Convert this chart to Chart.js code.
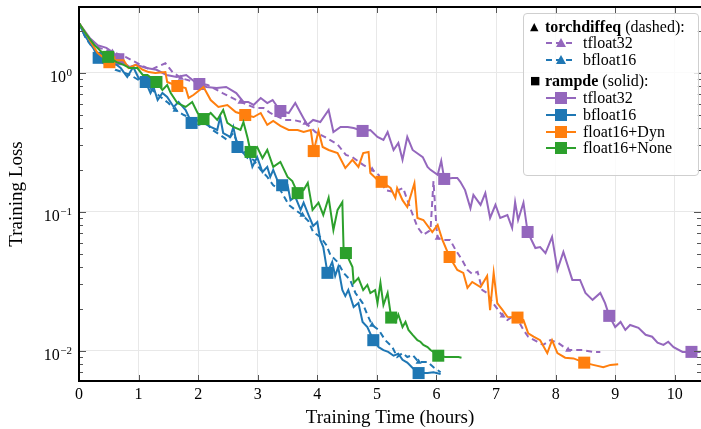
<!DOCTYPE html>
<html><head><meta charset="utf-8">
<script src="https://cdn.jsdelivr.net/npm/chart.js@4.4.1/dist/chart.umd.min.js"></script>
<style>
html,body{margin:0;padding:0;background:#fff;}
#wrap{position:relative;width:701px;height:429px;overflow:hidden;}
canvas{display:block;}
#legend{position:absolute;left:523px;top:13px;width:176px;height:163px;border:1px solid #cfcfcf;border-radius:4px;background:rgba(255,255,255,0.82);font-family:'Liberation Serif',serif;font-size:16px;color:#000;box-sizing:border-box;}
.row{position:absolute;left:0;height:18px;line-height:18px;white-space:nowrap;width:174px;}
.row span,.row svg{position:absolute;top:0;}
.gl{font-family:'DejaVu Sans',sans-serif;font-size:11px;}
</style></head>
<body>
<div id="wrap">
<canvas id="c" width="701" height="429"></canvas>
<div id="legend">
  <div class="row" style="top:4px"><span class="gl" style="left:6px">▲</span><span style="left:21px"><b>torchdiffeq</b> (dashed):</span></div>
  <div class="row" style="top:20px"><svg width="32" height="18" style="left:22px"><line x1="0" y1="9" x2="30" y2="9" stroke="#9467bd" stroke-width="2" stroke-dasharray="6,4"/><polygon points="15,4 20,13 10,13" fill="#9467bd"/></svg><span style="left:59px">tfloat32</span></div>
  <div class="row" style="top:37px"><svg width="32" height="18" style="left:22px"><line x1="0" y1="9" x2="30" y2="9" stroke="#1f77b4" stroke-width="2" stroke-dasharray="6,4"/><polygon points="15,4 20,13 10,13" fill="#1f77b4"/></svg><span style="left:59px">bfloat16</span></div>
  <div class="row" style="top:58px"><span class="gl" style="left:6px">■</span><span style="left:21px"><b>rampde</b> (solid):</span></div>
  <div class="row" style="top:75px"><svg width="32" height="18" style="left:22px"><line x1="0" y1="9" x2="30" y2="9" stroke="#9467bd" stroke-width="2"/><rect x="9" y="3" width="12" height="12" fill="#9467bd"/></svg><span style="left:59px">tfloat32</span></div>
  <div class="row" style="top:92px"><svg width="32" height="18" style="left:22px"><line x1="0" y1="9" x2="30" y2="9" stroke="#1f77b4" stroke-width="2"/><rect x="9" y="3" width="12" height="12" fill="#1f77b4"/></svg><span style="left:59px">bfloat16</span></div>
  <div class="row" style="top:109px"><svg width="32" height="18" style="left:22px"><line x1="0" y1="9" x2="30" y2="9" stroke="#ff7f0e" stroke-width="2"/><rect x="9" y="3" width="12" height="12" fill="#ff7f0e"/></svg><span style="left:59px">float16+Dyn</span></div>
  <div class="row" style="top:125px"><svg width="32" height="18" style="left:22px"><line x1="0" y1="9" x2="30" y2="9" stroke="#2ca02c" stroke-width="2"/><rect x="9" y="3" width="12" height="12" fill="#2ca02c"/></svg><span style="left:59px">float16+None</span></div>
</div>
</div>
<script>
// ---- data (hours, training loss) ----
const xTicks = [0,1,2,3,4,5,6,7,8,9,10];
const yMajor = [0.01, 0.1, 1];

// rampde tfloat32 (solid purple)
const rpTf32X = [0,0.18,0.31,0.46,0.56,0.66,0.80,0.85,0.96,1.13,1.30,1.47,1.64,1.80,1.97,2.02,2.14,2.31,2.47,2.64,2.76,2.84,2.93,3.05,3.16,3.25,3.38,3.52,3.63,3.72,3.83,3.93,4.05,4.19,4.27,4.39,4.51,4.61,4.76,4.89,5.01,5.11,5.18,5.28,5.36,5.43,5.51,5.60,5.77,5.85,5.90,6.02,6.08,6.13,6.27,6.35,6.40,6.48,6.57,6.62,6.74,6.82,6.90,6.99,7.07,7.19,7.27,7.32,7.37,7.46,7.53,7.66,7.74,7.83,7.94,8.03,8.13,8.28,8.41,8.50,8.62,8.75,8.83,8.90,9.00,9.09,9.17,9.25,9.39,9.51,9.62,9.71,9.81,9.89,9.98,10.13,10.28,10.43];
const rpTf32Y = [2.28,1.78,1.58,1.51,1.41,1.25,1.14,1.10,1.14,1.08,1.05,0.963,0.931,0.963,0.843,0.829,0.789,0.776,0.789,0.714,0.616,0.616,0.586,0.658,0.605,0.636,0.530,0.513,0.605,0.513,0.421,0.457,0.442,0.539,0.374,0.407,0.407,0.400,0.381,0.387,0.345,0.328,0.374,0.278,0.312,0.236,0.345,0.278,0.247,0.210,0.200,0.184,0.232,0.172,0.175,0.175,0.164,0.143,0.106,0.132,0.112,0.136,0.0901,0.112,0.0901,0.0947,0.0763,0.117,0.0871,0.116,0.0714,0.0548,0.0557,0.0504,0.0658,0.0381,0.0513,0.0323,0.0323,0.0260,0.0232,0.0260,0.0220,0.0178,0.0148,0.0161,0.0141,0.0153,0.0146,0.0130,0.0126,0.0114,0.0110,0.0116,0.0106,0.0098,0.0098,0.0098];
const rpTf32Marks = [5,15,26,38,53,70,83,96];

// torchdiffeq tfloat32 (dashed purple)
const tdTf32X = [0,0.18,0.34,0.56,0.78,0.98,1.20,1.45,1.57,1.71,1.99,2.16,2.41,2.71,2.96,3.10,3.21,3.46,3.60,3.80,3.97,4.14,4.34,4.48,4.59,4.77,4.92,5.03,5.14,5.28,5.36,5.44,5.56,5.68,5.78,5.90,5.95,6.00,6.02,6.12,6.23,6.32,6.43,6.52,6.60,6.69,6.77,6.85,6.95,7.11,7.19,7.32,7.46,7.54,7.69,7.79,7.91,8.04,8.21,8.33,8.46,8.62,8.75];
const tdTf32Y = [2.28,1.72,1.51,1.41,1.30,1.17,1.05,1.17,1.01,0.916,0.843,0.816,0.714,0.616,0.557,0.557,0.513,0.457,0.457,0.435,0.374,0.342,0.305,0.256,0.247,0.217,0.200,0.184,0.143,0.139,0.143,0.148,0.106,0.0776,0.0681,0.0738,0.166,0.0763,0.0647,0.0626,0.0626,0.0531,0.0450,0.0381,0.0357,0.0369,0.0273,0.0260,0.0220,0.0178,0.0166,0.0181,0.0141,0.0126,0.0116,0.0110,0.0119,0.0114,0.0101,0.0101,0.0101,0.0098,0.0098];
const tdTf32Marks = [3,9,13,19,26,38,49,58];

// rampde float16+Dyn (solid orange)
const rpDynX = [0,0.13,0.23,0.31,0.51,0.58,0.75,0.83,0.95,1.07,1.17,1.28,1.45,1.48,1.65,1.79,1.84,1.92,2.09,2.21,2.34,2.49,2.63,2.79,2.93,3.05,3.16,3.26,3.38,3.52,3.67,3.77,3.89,3.94,4.02,4.09,4.19,4.34,4.47,4.59,4.69,4.77,4.86,4.89,5.01,5.08,5.23,5.31,5.34,5.43,5.51,5.63,5.68,5.78,5.93,6.02,6.10,6.22,6.35,6.45,6.52,6.60,6.74,6.85,6.90,6.96,7.02,7.11,7.19,7.36,7.46,7.54,7.63,7.74,7.86,7.94,8.03,8.16,8.30,8.48,8.63,8.80,8.92,9.05];
const rpDynY = [2.28,1.87,1.58,1.39,1.19,1.23,1.23,1.08,1.14,1.05,1.01,0.995,1.01,0.857,0.802,0.776,0.658,0.691,0.789,0.636,0.567,0.586,0.521,0.496,0.480,0.513,0.421,0.449,0.414,0.387,0.387,0.374,0.387,0.273,0.381,0.292,0.278,0.264,0.206,0.236,0.210,0.264,0.269,0.190,0.169,0.164,0.148,0.126,0.148,0.121,0.108,0.160,0.0901,0.0871,0.0714,0.0802,0.0626,0.0472,0.0381,0.0363,0.0283,0.0312,0.0287,0.0345,0.0196,0.0363,0.0220,0.0196,0.0175,0.0173,0.0166,0.0133,0.0126,0.0119,0.0096,0.0119,0.0096,0.0089,0.0088,0.0082,0.0079,0.0076,0.0079,0.0080];
const rpDynMarks = [4,14,23,33,45,57,69,79];

// rampde float16+None (solid green)
const rpNoneX = [0,0.13,0.26,0.38,0.49,0.63,0.75,0.85,0.98,1.07,1.15,1.30,1.40,1.48,1.54,1.65,1.79,1.90,1.99,2.09,2.21,2.32,2.42,2.49,2.59,2.71,2.76,2.83,2.88,2.99,3.08,3.16,3.26,3.38,3.50,3.58,3.67,3.77,3.84,3.92,4.02,4.10,4.19,4.27,4.34,4.42,4.44,4.48,4.59,4.61,4.69,4.77,4.84,4.89,4.97,5.01,5.06,5.11,5.18,5.24,5.31,5.36,5.43,5.48,5.53,5.60,5.68,5.73,5.78,5.85,5.90,5.95,6.03,6.15,6.27,6.37,6.42];
const rpNoneY = [2.28,1.87,1.58,1.41,1.30,1.19,1.14,1.08,1.08,0.963,0.963,0.857,0.751,0.816,0.714,0.605,0.567,0.616,0.513,0.464,0.513,0.457,0.539,0.435,0.407,0.387,0.442,0.339,0.269,0.292,0.243,0.278,0.210,0.228,0.178,0.166,0.136,0.143,0.161,0.103,0.116,0.0947,0.126,0.0738,0.103,0.117,0.0557,0.0504,0.0400,0.0307,0.0333,0.0273,0.0297,0.0260,0.0273,0.0220,0.0307,0.0213,0.0260,0.0173,0.0161,0.0182,0.0148,0.0161,0.0141,0.0130,0.0119,0.0116,0.0110,0.0106,0.0101,0.0098,0.0092,0.0090,0.0090,0.0090,0.0089];
const rpNoneMarks = [4,11,19,28,36,47,59,72];

// rampde bfloat16 (solid blue)
const rpBf16X = [0,0.09,0.18,0.26,0.33,0.41,0.53,0.63,0.70,0.81,0.91,1.00,1.12,1.20,1.25,1.32,1.40,1.48,1.59,1.67,1.79,1.89,2.01,2.09,2.21,2.32,2.37,2.42,2.54,2.59,2.66,2.76,2.84,2.91,2.99,3.08,3.16,3.21,3.26,3.35,3.41,3.50,3.55,3.63,3.72,3.77,3.86,3.93,4.00,4.05,4.10,4.17,4.25,4.30,4.35,4.42,4.47,4.52,4.61,4.69,4.76,4.84,4.94,5.03,5.11,5.19,5.28,5.36,5.43,5.51,5.60,5.70,5.85,5.95,6.07];
const rpBf16Y = [2.28,1.87,1.64,1.46,1.28,1.17,1.17,1.14,1.08,0.931,1.10,0.916,0.857,0.714,0.789,0.636,0.714,0.669,0.567,0.616,0.539,0.435,0.457,0.435,0.407,0.387,0.480,0.368,0.345,0.407,0.292,0.264,0.278,0.210,0.247,0.193,0.210,0.178,0.200,0.160,0.155,0.156,0.121,0.128,0.103,0.116,0.0931,0.0789,0.0843,0.0626,0.0557,0.0363,0.0435,0.0345,0.0400,0.0273,0.0247,0.0273,0.0206,0.0220,0.0161,0.0148,0.0119,0.0106,0.0101,0.0098,0.0092,0.0095,0.0086,0.0082,0.0075,0.0069,0.0069,0.0070,0.0068];
const rpBf16Marks = [4,12,21,30,40,51,62,71];

// torchdiffeq bfloat16 (dashed blue)
const tdBf16X = [0,0.11,0.23,0.36,0.49,0.61,0.73,0.86,1.00,1.13,1.27,1.37,1.50,1.62,1.76,1.87,2.01,2.12,2.24,2.37,2.49,2.59,2.71,2.83,2.93,3.05,3.16,3.26,3.38,3.52,3.63,3.75,3.85,3.93,4.05,4.15,4.22,4.34,4.44,4.55,4.64,4.76,4.84,4.92,5.03,5.14,5.26,5.34,5.43,5.51,5.60,5.70,5.85,5.95,6.07];
const tdBf16Y = [2.28,1.78,1.51,1.28,1.14,1.05,1.01,0.963,0.886,0.816,0.726,0.669,0.605,0.539,0.496,0.472,0.421,0.442,0.387,0.356,0.328,0.368,0.278,0.243,0.236,0.200,0.178,0.155,0.143,0.112,0.103,0.0947,0.0857,0.0714,0.0658,0.0576,0.0488,0.0435,0.0363,0.0323,0.0260,0.0220,0.0181,0.0153,0.0141,0.0119,0.0106,0.0090,0.0096,0.0090,0.0093,0.0083,0.0083,0.0076,0.0070];
const tdBf16Marks = [4,13,22,31,43,51];

const PURPLE='#9467bd', BLUE='#1f77b4', ORANGE='#ff7f0e', GREEN='#2ca02c';

function pts(xs, ys){ return xs.map((x,i)=>({x:x, y:ys[i]})); }
function mk(label, xs, ys, color, dashed, marks){
  return {
    label, data: pts(xs, ys), borderColor: color, backgroundColor: color,
    pointBackgroundColor: color, pointBorderColor: color,
    borderWidth: 2, borderDash: dashed ? [6,4] : [],
    pointStyle: dashed ? 'triangle' : 'rect',
    pointRadius: ctx => marks.includes(ctx.dataIndex) ? (dashed ? 3.5 : 8.5) : 0,
    pointBorderWidth: 0, pointHoverRadius: 0, tension: 0, fill: false
  };
}

const frame = {
  id: 'frame',
  afterDraw(chart){
    const {ctx, chartArea: a, scales: {x, y}} = chart;
    ctx.save();
    ctx.strokeStyle = '#555'; ctx.lineWidth = 1;
    ctx.beginPath();
    xTicks.forEach(v => {
      const px = Math.round(x.getPixelForValue(v)) + 0.5;
      ctx.moveTo(px, a.bottom); ctx.lineTo(px, a.bottom - 6);
      ctx.moveTo(px, a.top); ctx.lineTo(px, a.top + 6);
    });
    const lo = y.min, hi = y.max;
    for (let e = -3; e <= 1; e++) {
      for (let m = 1; m <= 9; m++) {
        const v = m * Math.pow(10, e);
        if (v < lo || v > hi) continue;
        const py = Math.round(y.getPixelForValue(v)) + 0.5;
        const len = m === 1 ? 7 : 4;
        ctx.moveTo(a.left, py); ctx.lineTo(a.left + len, py);
        ctx.moveTo(a.right, py); ctx.lineTo(a.right - len, py);
      }
    }
    ctx.stroke();
    ctx.strokeStyle = '#000'; ctx.lineWidth = 2;
    ctx.beginPath();
    ctx.moveTo(a.left - 1, a.top); ctx.lineTo(a.right + 2, a.top);
    ctx.moveTo(a.left, a.top - 1); ctx.lineTo(a.left, a.bottom + 1);
    ctx.moveTo(a.left - 1, a.bottom); ctx.lineTo(a.right + 2, a.bottom);
    ctx.stroke();
    ctx.fillStyle = '#000';
    ctx.textBaseline = 'alphabetic';
    ctx.textAlign = 'left';
    yMajor.forEach(v => {
      const py = y.getPixelForValue(v);
      const k = Math.round(Math.log10(v));
      const ex = (k < 0 ? '\u2212' : '') + Math.abs(k);
      ctx.font = '11px "Liberation Serif", serif';
      const ew = ctx.measureText(ex).width;
      ctx.font = '16px "Liberation Serif", serif';
      const bw = ctx.measureText('10').width;
      const right = a.left - 7;
      ctx.fillText('10', right - ew - bw - 0.5, py + 9);
      ctx.font = '11px "Liberation Serif", serif';
      ctx.fillText(ex, right - ew, py + 3);
    });
    ctx.restore();
  }
};

const serif = 'Liberation Serif';
new Chart(document.getElementById('c'), {
  type: 'line',
  data: {
    datasets: [
      mk('rampde float16+None', rpNoneX, rpNoneY, GREEN, false, rpNoneMarks),
      mk('rampde float16+Dyn', rpDynX, rpDynY, ORANGE, false, rpDynMarks),
      mk('rampde bfloat16', rpBf16X, rpBf16Y, BLUE, false, rpBf16Marks),
      mk('rampde tfloat32', rpTf32X, rpTf32Y, PURPLE, false, rpTf32Marks),
      mk('torchdiffeq bfloat16', tdBf16X, tdBf16Y, BLUE, true, tdBf16Marks),
      mk('torchdiffeq tfloat32', tdTf32X, tdTf32Y, PURPLE, true, tdTf32Marks)
    ]
  },
  options: {
    responsive: false, animation: false, devicePixelRatio: 1,
    layout: { padding: { top: 7, right: 0, left: 0, bottom: 0 } },
    plugins: { legend: { display: false }, tooltip: { enabled: false } },
    events: [],
    scales: {
      x: {
        type: 'linear', min: 0, max: 10.44,
        afterBuildTicks: s => { s.ticks = xTicks.map(v => ({ value: v })); },
        afterFit: s => { s.height = 48; },
        grid: { color: '#e8e8e8', lineWidth: 1, drawTicks: false },
        border: { display: false },
        ticks: { padding: 4, autoSkip: false, maxRotation: 0, color: '#000',
                 font: { family: serif, size: 16 }, callback: v => String(v) },
        title: { display: true, text: 'Training Time (hours)', color: '#000',
                 font: { family: serif, size: 19 }, padding: { top: 0, bottom: 0 } }
      },
      y: {
        type: 'logarithmic', min: 0.00605, max: 2.97,
        afterBuildTicks: s => { s.ticks = yMajor.map(v => ({ value: v })); },
        afterFit: s => { s.width = 79; },
        grid: { color: '#e8e8e8', lineWidth: 1, drawTicks: false },
        border: { display: false },
        ticks: { display: false },
        title: { display: true, text: 'Training Loss', color: '#000',
                 font: { family: serif, size: 19 }, padding: { top: 6, bottom: 0 } }
      }
    }
  },
  plugins: [frame]
});
</script>
</body></html>
